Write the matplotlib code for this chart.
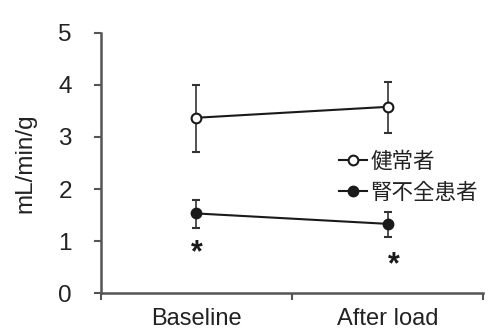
import matplotlib
matplotlib.use("Agg")
import matplotlib.pyplot as plt
from matplotlib.lines import Line2D

categories = ["Baseline", "After load"]
healthy = [3.37, 3.58]
healthy_lo = [2.71, 3.08]
healthy_hi = [4.00, 4.06]
patients = [1.53, 1.33]
patients_lo = [1.25, 1.08]
patients_hi = [1.79, 1.56]
star_y = [0.77, 0.54]
labels = ["健常者", "腎不全患者"]
yticks = [0, 1, 2, 3, 4, 5]

plt.rcParams['font.family'] = ['Liberation Sans', 'Noto Sans CJK JP', 'DejaVu Sans']

fig = plt.figure(figsize=(4.9, 3.33), dpi=100)
ax = fig.add_axes([0.206, 0.12, 0.78, 0.781])

x = list(range(len(categories)))
col = '#1a1a1a'
gray = '#555555'
yerr_h = [[h - l for h, l in zip(healthy, healthy_lo)], [u - h for h, u in zip(healthy, healthy_hi)]]
yerr_p = [[h - l for h, l in zip(patients, patients_lo)], [u - h for h, u in zip(patients, patients_hi)]]
ax.errorbar(x, healthy, yerr=yerr_h, color=col, lw=1.5, marker='o', ms=7,
            mfc='white', mec=col, mew=1.5, capsize=3, elinewidth=1.2, ecolor='#333333')
ax.errorbar(x, patients, yerr=yerr_p, color=col, lw=1.5, marker='o', ms=7,
            mfc=col, mec=col, mew=1.5, capsize=3, elinewidth=1.2, ecolor='#333333')
for xi, yi in zip(x, star_y):
    ax.text(xi + (0.03 if xi == 1 else 0), yi, "*", ha='center', va='center', fontsize=22,
            fontweight='bold', color=col)

ax.set_xlim(-0.5, 1.5)
ax.set_ylim(0, 5)
ax.set_yticks(yticks)
ax.set_xticks([-0.5, 0.5, 1.5])
ax.set_xticklabels([])
ax.set_xticks(x, minor=True)
ax.set_xticklabels(categories, minor=True)
ax.tick_params(axis='x', which='minor', length=0, pad=11, labelsize=17, labelcolor='#222222')
ax.tick_params(axis='x', which='major', length=5, width=1.5, color=gray)
ax.tick_params(axis='y', length=5, width=1.5, color=gray, labelsize=17.5, pad=16, labelcolor='#222222')
for s in ['top', 'right']:
    ax.spines[s].set_visible(False)
for s in ['left', 'bottom']:
    ax.spines[s].set_linewidth(1.8)
    ax.spines[s].set_color(gray)
ax.set_ylabel("mL/min/g", fontsize=17.5, color='#222222')
ax.yaxis.set_label_coords(-0.17, 0.5)

handles = [
    Line2D([], [], color=col, lw=1.5, marker='o', ms=7, mfc='white', mec=col, mew=1.5),
    Line2D([], [], color=col, lw=1.5, marker='o', ms=7, mfc=col, mec=col, mew=1.5),
]
leg = ax.legend(handles, labels, loc='center left', bbox_to_anchor=(0.6, 0.445), frameon=False,
                handlelength=1.3, handletextpad=0.15, labelspacing=0.4, borderaxespad=0,
                prop={'family': ['Noto Sans CJK JP', 'DejaVu Sans'], 'size': 15.5})
for t in leg.get_texts():
    t.set_color('#222222')
fig.savefig("out.png", dpi=100)
